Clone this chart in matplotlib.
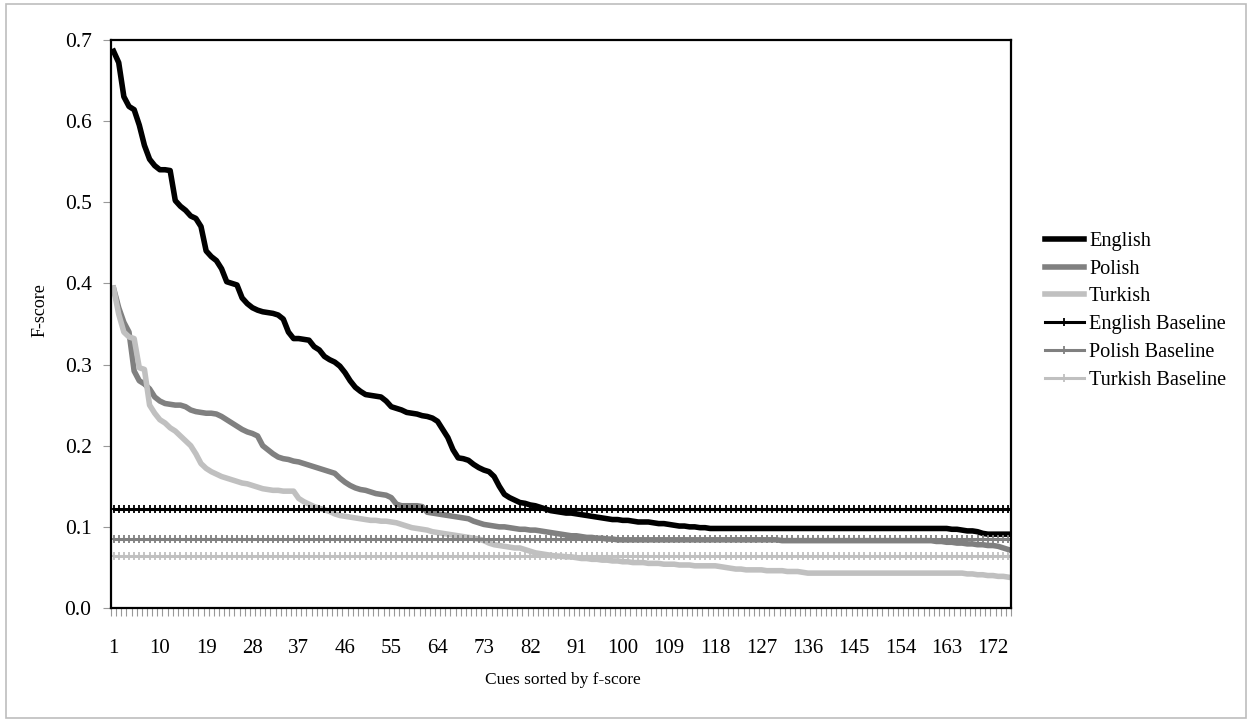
import numpy as np
import matplotlib
matplotlib.use("Agg")
import matplotlib.pyplot as plt
from matplotlib.patches import Rectangle
from matplotlib.ticker import FixedLocator, NullFormatter

plt.rcParams['font.family'] = ['Liberation Serif', 'DejaVu Serif']

# F-scores of each cue, sorted descending
english = [
    0.686, 0.672, 0.630, 0.618, 0.614, 0.595, 0.570, 0.553, 0.545, 0.540,
    0.540, 0.539, 0.502, 0.495, 0.490, 0.483, 0.480, 0.470, 0.440, 0.433,
    0.428, 0.418, 0.402, 0.400, 0.398, 0.382, 0.375, 0.370, 0.367, 0.365,
    0.364, 0.363, 0.361, 0.356, 0.340, 0.332, 0.332, 0.331, 0.330, 0.322,
    0.318, 0.310, 0.306, 0.303, 0.298, 0.290, 0.280, 0.272, 0.267, 0.263,
    0.262, 0.261, 0.260, 0.255, 0.248, 0.246, 0.244, 0.241, 0.240, 0.239,
    0.237, 0.236, 0.234, 0.230, 0.220, 0.210, 0.195, 0.185, 0.184, 0.182,
    0.177, 0.173, 0.170, 0.168, 0.162, 0.150, 0.140, 0.136, 0.133, 0.130,
    0.129, 0.127, 0.126, 0.124, 0.122, 0.120, 0.119, 0.118, 0.117, 0.117,
    0.116, 0.115, 0.114, 0.113, 0.112, 0.111, 0.110, 0.109, 0.109, 0.108,
    0.108, 0.107, 0.106, 0.106, 0.106, 0.105, 0.104, 0.104, 0.103, 0.102,
    0.101, 0.101, 0.100, 0.100, 0.099, 0.099, 0.098, 0.098, 0.098, 0.098,
    0.098, 0.098, 0.098, 0.098, 0.098, 0.098, 0.098, 0.098, 0.098, 0.098,
    0.098, 0.098, 0.098, 0.098, 0.098, 0.098, 0.098, 0.098, 0.098, 0.098,
    0.098, 0.098, 0.098, 0.098, 0.098, 0.098, 0.098, 0.098, 0.098, 0.098,
    0.098, 0.098, 0.098, 0.098, 0.098, 0.098, 0.098, 0.098, 0.098, 0.098,
    0.098, 0.098, 0.098, 0.097, 0.097, 0.096, 0.095, 0.095, 0.094, 0.092,
    0.091, 0.091, 0.091, 0.091, 0.091,
]

polish = [
    0.394, 0.370, 0.352, 0.340, 0.292, 0.280, 0.276, 0.270, 0.260, 0.255,
    0.252, 0.251, 0.250, 0.250, 0.248, 0.244, 0.242, 0.241, 0.240, 0.240,
    0.239, 0.236, 0.232, 0.228, 0.224, 0.220, 0.217, 0.215, 0.212, 0.200,
    0.195, 0.190, 0.186, 0.184, 0.183, 0.181, 0.180, 0.178, 0.176, 0.174,
    0.172, 0.170, 0.168, 0.166, 0.160, 0.155, 0.151, 0.148, 0.146, 0.145,
    0.143, 0.141, 0.140, 0.139, 0.136, 0.128, 0.126, 0.126, 0.126, 0.126,
    0.125, 0.118, 0.117, 0.116, 0.115, 0.114, 0.113, 0.112, 0.111, 0.110,
    0.107, 0.105, 0.103, 0.102, 0.101, 0.100, 0.100, 0.099, 0.098, 0.097,
    0.097, 0.096, 0.096, 0.095, 0.094, 0.093, 0.092, 0.091, 0.090, 0.089,
    0.089, 0.088, 0.087, 0.087, 0.086, 0.086, 0.085, 0.085, 0.084, 0.084,
    0.084, 0.084, 0.084, 0.084, 0.084, 0.084, 0.084, 0.084, 0.084, 0.084,
    0.084, 0.084, 0.084, 0.084, 0.084, 0.084, 0.084, 0.084, 0.084, 0.084,
    0.084, 0.084, 0.084, 0.084, 0.084, 0.084, 0.084, 0.084, 0.084, 0.084,
    0.083, 0.083, 0.083, 0.083, 0.083, 0.083, 0.083, 0.083, 0.083, 0.083,
    0.083, 0.083, 0.083, 0.083, 0.083, 0.083, 0.083, 0.083, 0.083, 0.083,
    0.083, 0.083, 0.083, 0.083, 0.083, 0.083, 0.083, 0.083, 0.083, 0.083,
    0.082, 0.082, 0.081, 0.081, 0.080, 0.080, 0.079, 0.079, 0.078, 0.078,
    0.077, 0.077, 0.076, 0.074, 0.072,
]

turkish = [
    0.394, 0.362, 0.340, 0.334, 0.332, 0.296, 0.294, 0.250, 0.240, 0.232,
    0.228, 0.222, 0.218, 0.212, 0.206, 0.200, 0.190, 0.178, 0.172, 0.168,
    0.165, 0.162, 0.160, 0.158, 0.156, 0.154, 0.153, 0.151, 0.149, 0.147,
    0.146, 0.145, 0.145, 0.144, 0.144, 0.144, 0.135, 0.131, 0.128, 0.125,
    0.123, 0.121, 0.119, 0.116, 0.114, 0.113, 0.112, 0.111, 0.110, 0.109,
    0.108, 0.108, 0.107, 0.107, 0.106, 0.105, 0.103, 0.101, 0.099, 0.098,
    0.097, 0.096, 0.094, 0.093, 0.092, 0.091, 0.090, 0.089, 0.088, 0.087,
    0.086, 0.085, 0.083, 0.080, 0.078, 0.077, 0.076, 0.075, 0.074, 0.074,
    0.072, 0.070, 0.068, 0.067, 0.066, 0.065, 0.064, 0.064, 0.063, 0.063,
    0.062, 0.061, 0.061, 0.060, 0.060, 0.059, 0.059, 0.058, 0.058, 0.057,
    0.057, 0.056, 0.056, 0.056, 0.055, 0.055, 0.055, 0.054, 0.054, 0.054,
    0.053, 0.053, 0.053, 0.052, 0.052, 0.052, 0.052, 0.052, 0.051, 0.050,
    0.049, 0.048, 0.048, 0.047, 0.047, 0.047, 0.047, 0.046, 0.046, 0.046,
    0.046, 0.045, 0.045, 0.045, 0.044, 0.043, 0.043, 0.043, 0.043, 0.043,
    0.043, 0.043, 0.043, 0.043, 0.043, 0.043, 0.043, 0.043, 0.043, 0.043,
    0.043, 0.043, 0.043, 0.043, 0.043, 0.043, 0.043, 0.043, 0.043, 0.043,
    0.043, 0.043, 0.043, 0.043, 0.043, 0.043, 0.042, 0.042, 0.041, 0.041,
    0.040, 0.040, 0.039, 0.039, 0.038,
]

# baseline f-scores
english_baseline = 0.122
polish_baseline = 0.085
turkish_baseline = 0.064

cues = np.arange(1, len(english) + 1)
n = len(cues)

fig = plt.figure(figsize=(12.5, 7.21), dpi=100)
ax = fig.add_axes([0.0888, 0.1567, 0.72, 0.788])

# chart-area border
fig.patches.append(Rectangle((0.005, 0.004), 0.992, 0.99, transform=fig.transFigure,
                             fill=False, edgecolor='#bdbdbd', linewidth=1.2))

ax.plot(cues, english, color='black', lw=4, label='English', solid_joinstyle='round')
ax.plot(cues, polish, color='#808080', lw=4, label='Polish', solid_joinstyle='round')
ax.plot(cues, turkish, color='#c0c0c0', lw=4, label='Turkish', solid_joinstyle='round')

ax.plot(cues, np.full(n, english_baseline), color='black', lw=2.2, marker='+',
        ms=6, mew=1.3, label='English Baseline')
ax.plot(cues, np.full(n, polish_baseline), color='#808080', lw=2.2, marker='+',
        ms=6, mew=1.3, label='Polish Baseline')
ax.plot(cues, np.full(n, turkish_baseline), color='#c0c0c0', lw=2.2, marker='+',
        ms=6, mew=1.3, label='Turkish Baseline')

ax.set_xlim(0.5, n + 0.5)
ax.set_ylim(0, 0.7)
ax.set_yticks(np.arange(0, 0.71, 0.1))
ax.set_yticklabels([f'{v:.1f}' for v in np.arange(0, 0.71, 0.1)], fontsize=15.5)

# category labels every 9 cues, tick marks on category boundaries
ax.set_xticks(cues[::9])
ax.set_xticklabels([str(c) for c in cues[::9]], fontsize=15)
ax.xaxis.set_minor_locator(FixedLocator(np.arange(0.5, n + 1, 1)))
ax.xaxis.set_minor_formatter(NullFormatter())
ax.tick_params(axis='x', which='major', length=0, pad=22)
ax.tick_params(axis='x', which='minor', length=6, width=0.8, color='#999999')
ax.tick_params(axis='y', length=6, width=0.8, color='#999999', pad=8)

for s in ax.spines.values():
    s.set_linewidth(1.6)
    s.set_color('black')

fig.text(0.032, 0.57, 'F-score', rotation=90, ha='center', va='center', fontsize=13)
fig.text(0.45, 0.057, 'Cues sorted by f-score', ha='center', va='center', fontsize=12.5)

fig.legend(loc='center left', bbox_to_anchor=(0.821, 0.569), frameon=False,
           fontsize=14.6, handlelength=1.95, handletextpad=0.25, labelspacing=0.42)

fig.savefig('out.png', dpi=100)
